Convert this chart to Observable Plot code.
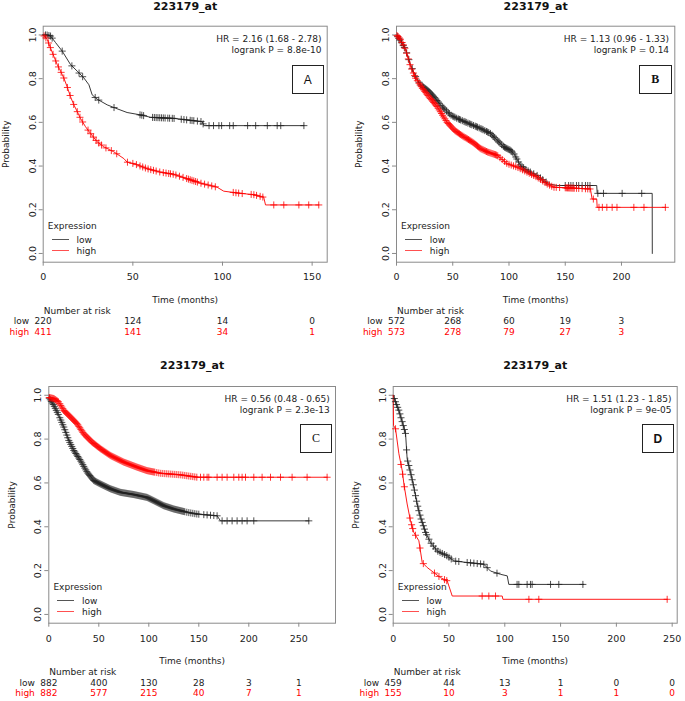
<!DOCTYPE html>
<html><head><meta charset="utf-8">
<script src="https://cdn.jsdelivr.net/npm/d3@7"></script>
<script src="https://cdn.jsdelivr.net/npm/@observablehq/plot@0.6"></script>
<style>
html,body{margin:0;padding:0;background:#fff;}
#root{position:relative;width:685px;height:701px;overflow:hidden;font-family:"DejaVu Sans",sans-serif;}
.panel{position:absolute;}
.panel svg{position:absolute;left:0;top:0;overflow:visible;background:transparent;}
.lg{position:absolute;height:0;width:17px;}
.box{position:absolute;border:1px solid #222;background:#fff;box-sizing:border-box;display:flex;align-items:center;justify-content:center;font-size:12px;color:#111;}
</style>
</head><body><div id="root"></div>
<script>
// ---------------- data ----------------
const titleText = "223179_at";
const panelNames = ["A", "B", "C", "D"];
const hrLabels = ["HR = 2.16 (1.68 - 2.78)", "HR = 1.13 (0.96 - 1.33)", "HR = 0.56 (0.48 - 0.65)", "HR = 1.51 (1.23 - 1.85)"];
const pLabels = ["logrank P = 8.8e-10", "logrank P = 0.14", "logrank P = 2.3e-13", "logrank P = 9e-05"];
const groupNames = ["low", "high"];
const legendTitle = "Expression";
const xAxisTitle = "Time (months)";
const yAxisTitle = "Probability";
const riskTitle = "Number at risk";
const yTicks = [0, 0.2, 0.4, 0.6, 0.8, 1.0];

const xTicksA = [0, 50, 100, 150];
const xTicksB = [0, 50, 100, 150, 200];
const xTicksC = [0, 50, 100, 150, 200, 250];
const xTicksD = [0, 50, 100, 150, 200, 250];

const riskLowA = [220, 124, 14, 0];
const riskHighA = [411, 141, 34, 1];
const riskLowB = [572, 268, 60, 19, 3];
const riskHighB = [573, 278, 79, 27, 3];
const riskLowC = [882, 400, 130, 28, 3, 1];
const riskHighC = [882, 577, 215, 40, 7, 1];
const riskLowD = [459, 44, 13, 1, 0, 0];
const riskHighD = [155, 10, 3, 1, 1, 0];

// survival curves: [time (months), probability]
const curveLowA = [[0,1],[2,1],[4.1,0.995],[6.9,0.965],[10.6,0.926],[15.2,0.865],[19,0.834],[22.7,0.803],[25.5,0.772],[27.3,0.726],[30.1,0.706],[35.7,0.68],[40.3,0.665],[46.8,0.645],[54.3,0.634],[59.9,0.623],[72.9,0.618],[80.3,0.611],[88.7,0.603],[89.6,0.585],[145.4,0.585]];
const curveHighA = [[0,1],[2.2,0.98],[4.1,0.94],[5.9,0.903],[7.8,0.865],[9.7,0.834],[11.5,0.803],[13.4,0.762],[15.2,0.718],[17.1,0.68],[19,0.649],[20.8,0.618],[23.6,0.58],[26.4,0.549],[30.1,0.511],[33.8,0.488],[39.4,0.465],[45,0.434],[46.8,0.418],[50.6,0.411],[58,0.388],[65.4,0.372],[72.9,0.362],[80.3,0.342],[87.7,0.322],[97,0.303],[100.7,0.285],[110,0.275],[117.5,0.269],[123,0.257],[124,0.222],[153.7,0.222]];
const curveLowB = [[0,1],[3.6,0.972],[8,0.934],[12.4,0.865],[16.9,0.811],[21.3,0.772],[27.3,0.749],[33.2,0.718],[39.1,0.68],[48,0.634],[53.9,0.618],[62.8,0.598],[74.7,0.572],[83.6,0.549],[89.5,0.518],[95.4,0.488],[101.3,0.472],[104.3,0.457],[110.2,0.403],[116.1,0.38],[125,0.357],[131,0.334],[135.4,0.318],[142.8,0.311],[178,0.311],[178.4,0.275],[227.3,0.275],[227.4,0]];
const curveHighB = [[0,1],[3.6,0.98],[8,0.934],[12.4,0.857],[16.9,0.803],[22.8,0.757],[28.7,0.718],[36.1,0.672],[45,0.6],[52.4,0.56],[59.9,0.534],[67.3,0.511],[74.7,0.48],[80.6,0.465],[89.5,0.449],[98.4,0.411],[107.3,0.395],[116.1,0.372],[125,0.349],[133.9,0.318],[139.9,0.303],[172.4,0.295],[173.9,0.249],[178,0.249],[178.4,0.211],[239.1,0.211]];
const curveLowC = [[0,0.99],[5,0.954],[10,0.908],[15,0.855],[20,0.794],[25,0.748],[31.7,0.702],[38.3,0.649],[45,0.611],[51.7,0.595],[61.7,0.573],[71.7,0.557],[85,0.547],[98.3,0.534],[105,0.519],[115,0.496],[125,0.481],[138.3,0.466],[148.3,0.458],[168.3,0.45],[171.7,0.427],[260,0.427]];
const curveHighC = [[0,0.99],[5,0.985],[10,0.969],[15,0.931],[21.7,0.901],[28.3,0.87],[35,0.824],[43.3,0.786],[51.7,0.756],[61.7,0.725],[75,0.695],[88.3,0.672],[98.3,0.656],[111.7,0.644],[131.7,0.637],[148.3,0.626],[278.3,0.626]];
const curveLowD = [[0,1],[2.1,0.969],[5.1,0.931],[8.1,0.878],[11.1,0.824],[12.5,0.71],[15.5,0.649],[18.5,0.58],[21.5,0.504],[24.5,0.443],[29,0.374],[33.5,0.328],[39.4,0.29],[48.4,0.267],[54.4,0.244],[66.3,0.237],[81.2,0.229],[87.2,0.198],[96.2,0.183],[102.2,0.176],[103.6,0.137],[170.8,0.137]];
const curveHighD = [[0,1],[0.3,0.862],[2.1,0.847],[5.1,0.733],[8.1,0.656],[9.6,0.595],[12.5,0.504],[15.5,0.427],[18.5,0.374],[23,0.336],[26,0.237],[30.5,0.214],[36.4,0.191],[42.4,0.168],[48.4,0.153],[51.4,0.107],[52.9,0.084],[97.7,0.084],[98.3,0.069],[245.5,0.069]];

// censored observations (months)
const censorLowA = [1.3,2.2,3.2,4.1,5,10.6,16,20,22,29,31,39.5,54,55,56,61,62,63,64,65,66,67,68,69.5,70.5,72,73,77,78.5,80,82,83,84,86,88,89.2,92.5,95,98,99.5,104,106,114,118.5,125,130.5,132.5,145.4];
const censorHighA = [0.5,1.5,3,4,5.5,7,8.5,10,11.5,13.5,15,17,19,20.5,22,25,26.5,28,29.5,31,32.5,35,38,41,47,50,52,54,55.5,57,58.5,60,61.5,63,65,67,68.5,70,71,72.5,74,76,78,80,81,82,83,84,85,86,88,90,92,94,96,106,107.5,109,111,116,117.5,119,121,122.5,128.6,134.2,142.6,148.1,153.7];
const censorLowB = [1,2,3,4.5,6,7,9,11,14,17,20,21.5,23,24,25,26,27,28,29,30,31,32,33,34,35,36,37,38,39.5,41,42,43,44.5,46,47,48.5,50,51,52,53.5,55,56,57,58.5,60,61,62,63.5,65,66,67,68.5,70,71,72,73.5,75,76,77,78.5,80,81,82,83.5,85,86,87,88.5,90,91,92,93.5,95,96,97,98,99,100,101,102,103,104.5,106,107,108.5,110,111.5,113,115,117,119,122,125,128,130,133,150,153,155,157,160,162,165,168,170,172,179,184,200.6,218];
const censorHighB = [0.5,1.5,2.5,3.5,5,6,7.5,9,10.5,12,13.5,15,16,17,18.5,20,21,22,23,24,25,26,27,28,29,30,31,32,33,34,35,36,37,38,39,40,41,42,43,44,45,46,47,48,49,50,51,52,53,54,55,56,57,58,59,60,61,62,63,64,65,66,67,68,69,70,71,72,73,74,75,76,77,78,79,80,81,82,83,84,85,86,87,88,89,90,92,94,96,98,100,102,104,106,108,110,112,114,116,118,120,122,124,126,128,130,132,134,136,138,140,142,145,150,151,152,153,154,155,156,157,158,160,162,165,168,170,172,175,180,183,187,191.7,196,211,220,239];
const censorLowC = [0.5,1.5,2.5,3.5,4.5,5.5,6.5,7.5,8.5,9.5,11,12,13,14,15,16,17,18,19,20,21,22,23,24,25,26,27,28,29,30,31,32,33,34,35,36,37,38,39,40,41,42,43,44,45,46,47,48,49,50,51,52,53,54,55,56,57,58,59,60,61,62,63,64,65,66,67,68,69,70,71,72,73,74,75,76,77,78,79,80,81,82,83,84,85,86,87,88,89,90,91,92,93,94,95,96,97,98,99,100,101,102,103,104,105,106,107,108,109,110,111,112,113,114,115,116,117,118,119,120,121,122,123,124,125,126,127,128,129,130,131,132,133,134,135,136,138,140,142,144,146,148,150,155,158.3,161.7,165,168.3,173.3,178.3,183.3,188.3,193.3,198.3,205,260];
const censorHighC = [0.5,1.5,2.5,3.5,4.5,5.5,6.5,7.5,8.5,9.5,11,12,13,14,15,16,17,18,19,20,21,22,23,24,25,26,27,28,29,30,31,32,33,34,35,36,37,38,39,40,41,42,43,44,45,46,47,48,49,50,51,52,53,54,55,56,57,58,59,60,61,62,63,64,65,66,67,68,69,70,71,72,73,74,75,76,77,78,79,80,81,82,83,84,85,86,87,88,89,90,91,92,93,94,95,96,97,98,99,100,101,102,103,104,105,106,108,110,112,114,116,118,120,122,124,126,128,130,132,134,136,138,140,142,144,146,148,151.7,155,158.3,160,168.3,173.3,178.3,185,190,193.3,196.7,205,213.3,221.7,231.7,243.3,258.3,278.3];
const censorLowD = [1,2,3,4,5,6,7,8,9,10,11,12,13,14,15,16,17,18,19,20,21,22,23,24,25,26,27,28,29,30,32,34,36,38,40,42,44,46,48,50,52,56,58.8,66.3,69.3,72.3,75.3,78.3,81.2,84.2,93,111,112.6,120,123,124.5,141,148.4,170];
const censorHighD = [2.1,7,8.5,10,15,16.5,17.5,20,24,27,37,41,46,48,79.7,85.7,91.7,121.6,130.5,245.5];

// ---------------- layout & style ----------------
const FONT = "DejaVu Sans";
const LOW_COLOR = "#222";
const HIGH_COLOR = "#ff0000";
const AXIS_COLOR = "#8a8a8a";
const TEXT_COLOR = "#222";

const panels = [
  {name: panelNames[0], left: 0, top: 0, w: 342, h: 340, ml: 42.7, mr: 15.3, mt: 25.7, mb: 78.3, xMax: 158.4, titleDy: -19.4, shift: 0, boxTop: 39.3, boxFont: "Liberation Sans, sans-serif", boxWeight: "normal",
   xTicks: xTicksA, riskLow: riskLowA, riskHigh: riskHighA, curveLow: curveLowA, curveHigh: curveHighA, censorLow: censorLowA, censorHigh: censorHighA, hr: hrLabels[0], p: pLabels[0]},
  {name: panelNames[1], left: 342, top: 0, w: 343, h: 340, ml: 54, mr: 10.7, mt: 25.7, mb: 78.3, xMax: 247.4, titleDy: -19.4, shift: 0, boxTop: 39.3, boxFont: "Liberation Serif, serif", boxWeight: "bold",
   xTicks: xTicksB, riskLow: riskLowB, riskHigh: riskHighB, curveLow: curveLowB, curveHigh: curveHighB, censorLow: censorLowB, censorHigh: censorHighB, hr: hrLabels[1], p: pLabels[1]},
  {name: panelNames[2], left: 0, top: 340, w: 342, h: 361, ml: 48.3, mr: 7, mt: 46, mb: 78.3, xMax: 286.7, titleDy: -21, shift: 0.8, boxTop: 38, boxFont: "Liberation Serif, serif", boxWeight: "normal",
   xTicks: xTicksC, riskLow: riskLowC, riskHigh: riskHighC, curveLow: curveLowC, curveHigh: curveHighC, censorLow: censorLowC, censorHigh: censorHighC, hr: hrLabels[2], p: pLabels[2]},
  {name: panelNames[3], left: 342, top: 340, w: 343, h: 361, ml: 50.7, mr: 8.3, mt: 46, mb: 78.3, xMax: 254.5, titleDy: -21, shift: 0.8, boxTop: 38, boxFont: "Liberation Sans, sans-serif", boxWeight: "bold",
   xTicks: xTicksD, riskLow: riskLowD, riskHigh: riskHighD, curveLow: curveLowD, curveHigh: curveHighD, censorLow: censorLowD, censorHigh: censorHighD, hr: hrLabels[3], p: pLabels[3]}
];

// position of a censor mark on the drawn survival curve
function onCurve(curve, t) {
  for (let i = 1; i < curve.length; i++) {
    const [t0, s0] = curve[i - 1], [t1, s1] = curve[i];
    if (t <= t1) return t1 === t0 ? s1 : s0 + (s1 - s0) * (t - t0) / (t1 - t0);
  }
  return curve[curve.length - 1][1];
}

const root = document.getElementById("root");

for (const p of panels) {
  const cLow = p.censorLow.map(t => [t, onCurve(p.curveLow, t)]);
  const cHigh = p.censorHigh.map(t => [t, onCurve(p.curveHigh, t)]);
  const s = p.shift;
  const txt = {fontSize: 9, fill: TEXT_COLOR, lineAnchor: "middle"};

  const svg = Plot.plot({
    width: p.w, height: p.h,
    marginLeft: p.ml, marginRight: p.mr, marginTop: p.mt, marginBottom: p.mb,
    style: {fontFamily: FONT, fontSize: "9px", color: TEXT_COLOR, background: "transparent", overflow: "visible"},
    x: {domain: [0, p.xMax]},
    y: {domain: [-0.04, 1.04]},
    marks: [
      Plot.axisX({ticks: p.xTicks, tickSize: 4, tickPadding: 7 + s, stroke: AXIS_COLOR, fill: TEXT_COLOR, fontSize: 9.5, label: null}),
      Plot.axisY({ticks: yTicks, tickFormat: d3.format(".1f"), tickRotate: -90, tickSize: 4, tickPadding: 3.5, stroke: AXIS_COLOR, fill: TEXT_COLOR, fontSize: 9.5, label: null}),
      Plot.frame({stroke: AXIS_COLOR}),
      Plot.line(p.curveLow, {x: d => d[0], y: d => d[1], stroke: LOW_COLOR, strokeWidth: 0.9}),
      Plot.line(p.curveHigh, {x: d => d[0], y: d => d[1], stroke: HIGH_COLOR, strokeWidth: 0.9}),
      Plot.dot(cLow, {x: d => d[0], y: d => d[1], symbol: "plus", r: 2.4, stroke: LOW_COLOR, strokeWidth: 0.8}),
      Plot.dot(cHigh, {x: d => d[0], y: d => d[1], symbol: "plus", r: 2.4, stroke: HIGH_COLOR, strokeWidth: 0.8}),
      // title
      Plot.text([titleText], {frameAnchor: "top", dy: p.titleDy, fontSize: 11, fontWeight: "bold", fill: "#111", lineAnchor: "middle"}),
      // HR and logrank
      Plot.text([p.hr], {...txt, frameAnchor: "top-right", textAnchor: "end", dx: -5.7, dy: 12.5}),
      Plot.text([p.p], {...txt, frameAnchor: "top-right", textAnchor: "end", dx: -5.7, dy: 23.5}),
      // axis titles
      Plot.text([yAxisTitle], {...txt, frameAnchor: "left", rotate: -90, dx: -37, textAnchor: "middle"}),
      Plot.text([xAxisTitle], {...txt, frameAnchor: "bottom", dy: 37.5 + s}),
      // legend
      Plot.text([legendTitle], {...txt, frameAnchor: "bottom-left", textAnchor: "start", dx: 4.6, dy: -36}),
      Plot.text([groupNames[0]], {...txt, frameAnchor: "bottom-left", textAnchor: "start", dx: 33.3, dy: -22.5}),
      Plot.text([groupNames[1]], {...txt, frameAnchor: "bottom-left", textAnchor: "start", dx: 33.3, dy: -11.5}),
      // number at risk table
      Plot.text([riskTitle], {...txt, frameAnchor: "bottom-left", textAnchor: "start", dx: 0.5, dy: 48.5 + s}),
      Plot.text([groupNames[0]], {...txt, frameAnchor: "bottom-left", textAnchor: "end", dx: -14, dy: 59.3 + s}),
      Plot.text([groupNames[1]], {...txt, fill: HIGH_COLOR, frameAnchor: "bottom-left", textAnchor: "end", dx: -14, dy: 69.6 + s}),
      Plot.text(p.xTicks, {...txt, x: d => d, text: (d, i) => String(p.riskLow[i]), frameAnchor: "bottom", dy: 59.3 + s}),
      Plot.text(p.xTicks, {...txt, fill: HIGH_COLOR, x: d => d, text: (d, i) => String(p.riskHigh[i]), frameAnchor: "bottom", dy: 69.6 + s})
    ]
  });

  const div = document.createElement("div");
  div.className = "panel";
  Object.assign(div.style, {left: p.left + "px", top: p.top + "px", width: p.w + "px", height: p.h + "px"});
  div.appendChild(svg);

  // legend line keys
  const frameBottom = p.h - p.mb;
  [["#555555", -22.5], ["#ff5050", -11.5]].forEach(([c, off]) => {
    const l = document.createElement("div");
    l.className = "lg";
    l.style.left = (p.ml + 9) + "px";
    l.style.top = Math.round(frameBottom + off) + "px";
    l.style.borderTop = "1px solid " + c;
    div.appendChild(l);
  });

  // panel letter box
  const box = document.createElement("div");
  box.className = "box";
  box.textContent = p.name;
  Object.assign(box.style, {left: (p.w - p.mr - 2.7 - 32.5) + "px", top: (p.mt + p.boxTop) + "px", width: "32.5px", height: "29px", fontFamily: p.boxFont, fontWeight: p.boxWeight});
  div.appendChild(box);

  root.appendChild(div);
}
</script>
</body></html>
